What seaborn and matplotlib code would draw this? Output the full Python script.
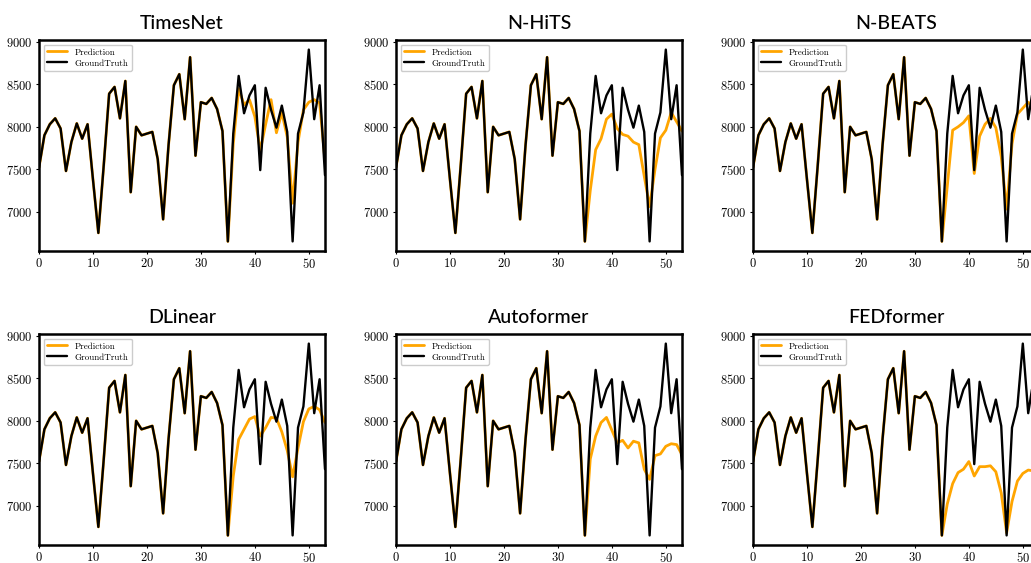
import numpy as np
import pandas as pd
import matplotlib
matplotlib.use("Agg")
import matplotlib.pyplot as plt
import seaborn as sns

# ground truth over the whole window (history + horizon)
ground_truth = [7520, 7900, 8030, 8100, 7980, 7480, 7820, 8040, 7860, 8030,
                7380, 6750, 7550, 8390, 8470, 8100, 8540, 7230, 8000, 7900,
                7920, 7940, 7620, 6910, 7780, 8490, 8620, 8090, 8820, 7660,
                8290, 8270, 8340, 8210, 7950, 6650, 7920, 8600, 8160, 8370,
                8490, 7490, 8460, 8200, 7990, 8250, 7940, 6650, 7920, 8170,
                8910, 8090, 8490, 7430]
history_len = 36

# forecasts for the last 18 steps
fc_timesnet = [7800, 8450, 8260, 8320, 8120, 7720, 8030, 8320, 7930, 8170,
               7880, 7100, 7820, 8200, 8290, 8320, 8280, 7600]
fc_nhits = [7250, 7730, 7860, 8090, 8150, 7980, 7910, 7890, 7820, 7790,
            7420, 7060, 7500, 7870, 7960, 8170, 8060, 7950]
fc_nbeats = [7300, 7960, 8000, 8050, 8130, 7450, 7890, 8030, 8100, 7990,
             7650, 7030, 7800, 8150, 8220, 8290, 8220, 8150]
fc_dlinear = [7350, 7780, 7900, 8020, 8050, 7820, 7920, 8040, 8030, 7870,
              7650, 7340, 7680, 7990, 8140, 8170, 8130, 7980]
fc_autoformer = [7550, 7820, 7980, 8040, 7890, 7740, 7770, 7680, 7760, 7740,
                 7430, 7310, 7590, 7610, 7700, 7730, 7720, 7600]
fc_fedformer = [7020, 7260, 7390, 7430, 7520, 7350, 7460, 7460, 7470, 7400,
                7150, 6680, 7050, 7290, 7380, 7420, 7410, 7300]

models = ["TimesNet", "N-HiTS", "N-BEATS", "DLinear", "Autoformer", "FEDformer"]
forecasts = [fc_timesnet, fc_nhits, fc_nbeats, fc_dlinear, fc_autoformer, fc_fedformer]

sns.set_style("white")
plt.rcParams["font.family"] = ["cmr10", "DejaVu Serif"]
plt.rcParams["axes.formatter.use_mathtext"] = True
plt.rcParams["text.color"] = "black"
plt.rcParams["xtick.color"] = "black"
plt.rcParams["ytick.color"] = "black"

W, H = 1031, 563
fig = plt.figure(figsize=(W / 100, H / 100), dpi=100)

# axes boxes in pixels (left, top) -- third column runs off the right edge
lefts = [39, 396, 753]
tops = [40, 334]
aw, ah = 286, 211

for k, (name, fc) in enumerate(zip(models, forecasts)):
    r, c = divmod(k, 3)
    ax = fig.add_axes([lefts[c] / W, 1 - (tops[r] + ah) / H, aw / W, ah / H])
    df = pd.DataFrame({
        "step": np.arange(len(ground_truth)),
        "GroundTruth": ground_truth,
        "Prediction": ground_truth[:history_len] + fc,
    })
    sns.lineplot(data=df, x="step", y="Prediction", ax=ax, color="orange",
                 linewidth=2.0, label="Prediction")
    sns.lineplot(data=df, x="step", y="GroundTruth", ax=ax, color="black",
                 linewidth=1.7, label="GroundTruth")
    ax.set_xlim(0, 53)
    ax.set_xticks([0, 10, 20, 30, 40, 50])
    ax.set_yticks([7000, 7500, 8000, 8500, 9000])
    ax.set_xlabel("")
    ax.set_ylabel("")
    ax.tick_params(labelsize=9, length=2.5, width=0.8, pad=2, direction="out",
                   left=True, bottom=True, colors="black")
    for sp in ax.spines.values():
        sp.set_linewidth(1.8)
        sp.set_color("black")
    ax.legend(loc="upper left", fontsize=6.5, framealpha=1, borderpad=0.4,
              handlelength=2.2, labelspacing=0.3)
    ax.set_title(name, fontsize=14, family=["Lato", "DejaVu Sans"],
                 fontweight="medium", color="black", pad=8)

fig.savefig("out.png", dpi=100)
